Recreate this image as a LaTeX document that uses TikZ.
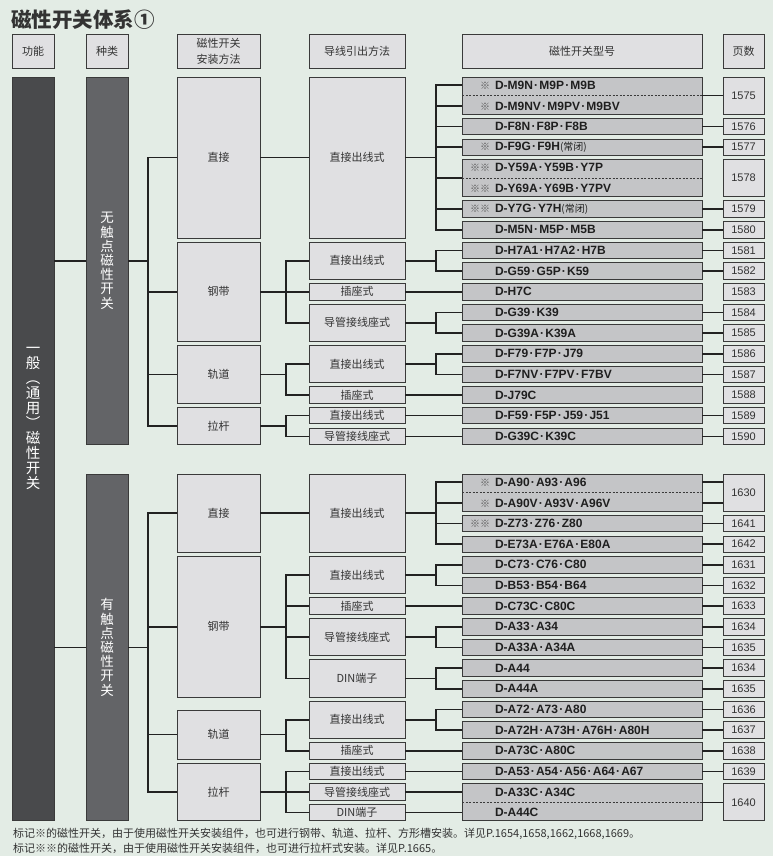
\documentclass[tikz,border=0pt]{standalone}
\usepackage{fontspec}
\setmainfont{Liberation Sans}
\newfontfamily\cjk{Noto Sans CJK SC}
\newfontfamily\lat{Liberation Sans}
\definecolor{bgfill}{HTML}{E3ECE5}
\definecolor{boxfill}{HTML}{E0E0E2}
\definecolor{modelfill}{HTML}{C4C5C7}
\definecolor{funfill}{HTML}{494A4C}
\definecolor{kindfill}{HTML}{636467}
\definecolor{edgecol}{HTML}{3A3A3A}
\definecolor{linecol}{HTML}{222222}
\definecolor{textcol}{HTML}{333333}
\definecolor{markcol}{HTML}{555555}
\newcommand{\mdot}{\kern1.2pt·\kern1.2pt}
\newcommand{\nclosed}{{\cjk\mdseries\fontsize{10}{12}\selectfont(常闭)}}
\newcommand{\refm}{\llap{{\cjk\mdseries\fontsize{10}{12}\selectfont\color{markcol}※}\kern5pt}}
\newcommand{\refmm}{\llap{{\cjk\mdseries\fontsize{10}{12}\selectfont\color{markcol}※※}\kern5pt}}

\begin{document}
\begin{tikzpicture}[x=1pt,y=-1pt,
  declare function={ya(\a,\b)=77+10.325*(\a+\b)+8.25; yb(\a,\b)=474+10.325*(\a+\b)+8.25;},
  link/.style={draw=linecol,line width=1.6pt},
  sep/.style={draw=edgecol,line width=0.7pt,dash pattern=on 2pt off 1.5pt},
  rowspan/.style 2 args={minimum height={20.65*(#2-#1)+16.5}}]
\tikzset{
  cell/.style={draw=edgecol,line width=0.9pt,inner sep=0pt,outer sep=0pt,text=textcol,align=center,font=\cjk\fontsize{11}{15}\selectfont},
  head/.style={cell,fill=boxfill,minimum height=34pt},
  inst/.style={cell,fill=boxfill,minimum width=83pt},
  wire/.style={cell,fill=boxfill,minimum width=96pt},
  model/.style={cell,fill=modelfill,minimum width=240pt,rowspan={0}{0},text width=174pt,align=left,text=black!88,font=\lat\bfseries\fontsize{12}{13}\selectfont},
  modelrow/.style={model,draw=none,fill=none},
  page/.style={cell,fill=boxfill,minimum width=41pt,rowspan={0}{0},font=\lat\fontsize{11}{13}\selectfont},
  column/.style={cell,minimum width=42pt,text=white}
}
\fill[bgfill] (0,0) rectangle (773,856);
\useasboundingbox (0,0) rectangle (773,856);

% title and header row
\node[anchor=west,inner sep=0pt,text=textcol,font=\cjk\bfseries\fontsize{20.5}{22}\selectfont] (title) at (11,20) {磁性开关体系①};
\node[head,minimum width=42pt] (hF) at (33,51) {功能};
\node[head,minimum width=42pt] (hK) at (107,51) {种类};
\node[head,minimum width=83pt,font=\cjk\fontsize{11}{16}\selectfont] (hI) at (218.5,51) {磁性开关\\安装方法};
\node[head,minimum width=96pt] (hW) at (357,51) {导线引出方法};
\node[head,minimum width=240pt] (hM) at (582,51) {磁性开关型号};
\node[head,minimum width=41pt] (hP) at (743.5,51) {页数};

% function and kind columns
\node[column,fill=funfill,minimum height=743.9pt] (fun) at (33,448.95) {};
\node[inner sep=0pt,align=center,text=white,font=\cjk\fontsize{14.5}{15}\selectfont] (funtxt) at (33,418) {一\\般\\︵\\通\\用\\︶\\磁\\性\\开\\关};
\node[column,fill=kindfill,rowspan={0}{17},font=\cjk\fontsize{13.5}{14.2}\selectfont] (kA) at (107,{ya(0,17)}) {无\\触\\点\\磁\\性\\开\\关};
\node[column,fill=kindfill,rowspan={0}{16},font=\cjk\fontsize{13.5}{14.2}\selectfont] (kB) at (107,{yb(0,16)}) {有\\触\\点\\磁\\性\\开\\关};

% mounting
\node[inst,rowspan={0}{7}] (iA1) at (218.5,{ya(0,7)}) {直接};
\node[inst,rowspan={8}{12}] (iA2) at (218.5,{ya(8,12)}) {钢带};
\node[inst,rowspan={13}{15}] (iA3) at (218.5,{ya(13,15)}) {轨道};
\node[inst,rowspan={16}{17}] (iA4) at (218.5,{ya(16,17)}) {拉杆};
\node[inst,rowspan={0}{3}] (iB1) at (218.5,{yb(0,3)}) {直接};
\node[inst,rowspan={4}{10}] (iB2) at (218.5,{yb(4,10)}) {钢带};
\node[inst,minimum height=49pt] (iB3) at (218.5,734.5) {轨道};
\node[inst,rowspan={14}{16}] (iB4) at (218.5,{yb(14,16)}) {拉杆};

% lead wire
\node[wire,rowspan={0}{7}] (wA1) at (357,{ya(0,7)}) {直接出线式};
\node[wire,rowspan={8}{9}] (wA2) at (357,{ya(8,9)}) {直接出线式};
\node[wire,rowspan={10}{10}] (wA3) at (357,{ya(10,10)}) {插座式};
\node[wire,rowspan={11}{12}] (wA4) at (357,{ya(11,12)}) {导管接线座式};
\node[wire,rowspan={13}{14}] (wA5) at (357,{ya(13,14)}) {直接出线式};
\node[wire,rowspan={15}{15}] (wA6) at (357,{ya(15,15)}) {插座式};
\node[wire,rowspan={16}{16}] (wA7) at (357,{ya(16,16)}) {直接出线式};
\node[wire,rowspan={17}{17}] (wA8) at (357,{ya(17,17)}) {导管接线座式};
\node[wire,rowspan={0}{3}] (wB1) at (357,{yb(0,3)}) {直接出线式};
\node[wire,rowspan={4}{5}] (wB2) at (357,{yb(4,5)}) {直接出线式};
\node[wire,rowspan={6}{6}] (wB3) at (357,{yb(6,6)}) {插座式};
\node[wire,rowspan={7}{8}] (wB4) at (357,{yb(7,8)}) {导管接线座式};
\node[wire,rowspan={9}{10}] (wB5) at (357,{yb(9,10)}) {DIN端子};
\node[wire,rowspan={11}{12}] (wB6) at (357,{yb(11,12)}) {直接出线式};
\node[wire,rowspan={13}{13}] (wB7) at (357,{yb(13,13)}) {插座式};
\node[wire,rowspan={14}{14}] (wB8) at (357,{yb(14,14)}) {直接出线式};
\node[wire,rowspan={15}{15}] (wB9) at (357,{yb(15,15)}) {导管接线座式};
\node[wire,rowspan={16}{16}] (wB10) at (357,{yb(16,16)}) {DIN端子};

% models and pages, non-contact
\node[model,rowspan={0}{1}] (mA01) at (582,{ya(0,1)}) {};
\node[modelrow] (mA0) at (582,{ya(0,0)}) {\refm D-M9N\mdot M9P\mdot M9B};
\node[modelrow] (mA1) at (582,{ya(1,1)}) {\refm D-M9NV\mdot M9PV\mdot M9BV};
\draw[sep] (mA01.west) -- (mA01.east);
\node[page,rowspan={0}{1}] (pA01) at (743.5,{ya(0,1)}) {1575};
\node[model,rowspan={4}{5}] (mA45) at (582,{ya(4,5)}) {};
\node[modelrow] (mA4) at (582,{ya(4,4)}) {\refmm D-Y59A\mdot Y59B\mdot Y7P};
\node[modelrow] (mA5) at (582,{ya(5,5)}) {\refmm D-Y69A\mdot Y69B\mdot Y7PV};
\draw[sep] (mA45.west) -- (mA45.east);
\node[page,rowspan={4}{5}] (pA45) at (743.5,{ya(4,5)}) {1578};
\foreach \i/\txt/\pg in {2/{D-F8N\mdot F8P\mdot F8B}/1576, 3/{\refm D-F9G\mdot F9H\nclosed}/1577,
    6/{\refmm D-Y7G\mdot Y7H\nclosed}/1579, 7/{D-M5N\mdot M5P\mdot M5B}/1580,
    8/{D-H7A1\mdot H7A2\mdot H7B}/1581, 9/{D-G59\mdot G5P\mdot K59}/1582, 10/{D-H7C}/1583,
    11/{D-G39\mdot K39}/1584, 12/{D-G39A\mdot K39A}/1585, 13/{D-F79\mdot F7P\mdot J79}/1586,
    14/{D-F7NV\mdot F7PV\mdot F7BV}/1587, 15/{D-J79C}/1588, 16/{D-F59\mdot F5P\mdot J59\mdot J51}/1589,
    17/{D-G39C\mdot K39C}/1590}{
  \node[model] (mA\i) at (582,{ya(\i,\i)}) {\txt};
  \node[page] (pA\i) at (743.5,{ya(\i,\i)}) {\pg};
}

% models and pages, contact
\node[model,rowspan={0}{1}] (mB01) at (582,{yb(0,1)}) {};
\node[modelrow] (mB0) at (582,{yb(0,0)}) {\refm D-A90\mdot A93\mdot A96};
\node[modelrow] (mB1) at (582,{yb(1,1)}) {\refm D-A90V\mdot A93V\mdot A96V};
\draw[sep] (mB01.west) -- (mB01.east);
\node[page,rowspan={0}{1}] (pB01) at (743.5,{yb(0,1)}) {1630};
\node[model,rowspan={15}{16}] (mB1516) at (582,{yb(15,16)}) {};
\node[modelrow] (mB15) at (582,{yb(15,15)}) {D-A33C\mdot A34C};
\node[modelrow] (mB16) at (582,{yb(16,16)}) {D-A44C};
\draw[sep] (mB1516.west) -- (mB1516.east);
\node[page,rowspan={15}{16}] (pB1516) at (743.5,{yb(15,16)}) {1640};
\foreach \i/\txt/\pg in {2/{\refmm D-Z73\mdot Z76\mdot Z80}/1641, 3/{D-E73A\mdot E76A\mdot E80A}/1642,
    4/{D-C73\mdot C76\mdot C80}/1631, 5/{D-B53\mdot B54\mdot B64}/1632, 6/{D-C73C\mdot C80C}/1633,
    7/{D-A33\mdot A34}/1634, 8/{D-A33A\mdot A34A}/1635, 9/{D-A44}/1634, 10/{D-A44A}/1635,
    11/{D-A72\mdot A73\mdot A80}/1636, 12/{D-A72H\mdot A73H\mdot A76H\mdot A80H}/1637,
    13/{D-A73C\mdot A80C}/1638, 14/{D-A53\mdot A54\mdot A56\mdot A64\mdot A67}/1639}{
  \node[model] (mB\i) at (582,{yb(\i,\i)}) {\txt};
  \node[page] (pB\i) at (743.5,{yb(\i,\i)}) {\pg};
}

% connectors
\draw[link] (fun.east |- kA.west) -- (kA.west);
\draw[link] (fun.east |- kB.west) -- (kB.west);
\draw[link] (kA.east) -- ++(20,0) coordinate (tKA);
\foreach \n in {iA1,iA2,iA3,iA4} \draw[link] (tKA) |- (\n.west);
\draw[link] (kB.east) -- ++(20,0) coordinate (tKB);
\foreach \n in {iB1,iB2,iB3,iB4} \draw[link] (tKB) |- (\n.west);

\draw[link] (iA1.east) -- (wA1.west);
\draw[link] (iA2.east) -- ++(26,0) coordinate (tIA2);
\foreach \n in {wA2,wA3,wA4} \draw[link] (tIA2) |- (\n.west);
\draw[link] (iA3.east) -- ++(26,0) coordinate (tIA3);
\foreach \n in {wA5,wA6} \draw[link] (tIA3) |- (\n.west);
\draw[link] (iA4.east) -- ++(26,0) coordinate (tIA4);
\foreach \n in {wA7,wA8} \draw[link] (tIA4) |- (\n.west);
\draw[link] (iB1.east) -- (wB1.west);
\draw[link] (iB2.east) -- ++(26,0) coordinate (tIB2);
\foreach \n in {wB2,wB3,wB4,wB5} \draw[link] (tIB2) |- (\n.west);
\draw[link] (iB3.east) -- ++(26,0) coordinate (tIB3);
\foreach \n in {wB6,wB7} \draw[link] (tIB3) |- (\n.west);
\draw[link] (iB4.east) -- ++(26,0) coordinate (tIB4);
\foreach \n in {wB8,wB9,wB10} \draw[link] (tIB4) |- (\n.west);

\draw[link] (wA1.east) -- ++(31,0) coordinate (tWA1);
\foreach \n in {mA0,mA1,mA2,mA3,mA45,mA6,mA7} \draw[link] (tWA1) |- (\n.west);
\draw[link] (wA2.east) -- ++(31,0) coordinate (tWA2);
\foreach \n in {mA8,mA9} \draw[link] (tWA2) |- (\n.west);
\draw[link] (wA3.east) -- (mA10.west);
\draw[link] (wA4.east) -- ++(31,0) coordinate (tWA4);
\foreach \n in {mA11,mA12} \draw[link] (tWA4) |- (\n.west);
\draw[link] (wA5.east) -- ++(31,0) coordinate (tWA5);
\foreach \n in {mA13,mA14} \draw[link] (tWA5) |- (\n.west);
\draw[link] (wA6.east) -- (mA15.west);
\draw[link] (wA7.east) -- (mA16.west);
\draw[link] (wA8.east) -- (mA17.west);
\draw[link] (wB1.east) -- ++(31,0) coordinate (tWB1);
\foreach \n in {mB0,mB1,mB2,mB3} \draw[link] (tWB1) |- (\n.west);
\draw[link] (wB2.east) -- ++(31,0) coordinate (tWB2);
\foreach \n in {mB4,mB5} \draw[link] (tWB2) |- (\n.west);
\draw[link] (wB3.east) -- (mB6.west);
\draw[link] (wB4.east) -- ++(31,0) coordinate (tWB4);
\foreach \n in {mB7,mB8} \draw[link] (tWB4) |- (\n.west);
\draw[link] (wB5.east) -- ++(31,0) coordinate (tWB5);
\foreach \n in {mB9,mB10} \draw[link] (tWB5) |- (\n.west);
\draw[link] (wB6.east) -- ++(31,0) coordinate (tWB6);
\foreach \n in {mB11,mB12} \draw[link] (tWB6) |- (\n.west);
\draw[link] (wB7.east) -- (mB13.west);
\draw[link] (wB8.east) -- (mB14.west);
\draw[link] (wB9.east) -- (mB15.west);
\draw[link] (wB10.east) -- (mB16.west);

\draw[link] (mA01.east) -- (pA01.west);
\foreach \i in {2,3,6,7,8,9,11,12,13,14,16,17} \draw[link] (mA\i.east) -- (pA\i.west);
\draw[link] (mB0.east) -- (mB0.east -| pB01.west);
\draw[link] (mB1.east) -- (mB1.east -| pB01.west);
\foreach \i in {2,...,14} \draw[link] (mB\i.east) -- (pB\i.west);
\draw[link] (mB1516.east) -- (pB1516.west);

% notes
\node[anchor=west,inner sep=0pt,text=textcol,font=\cjk\fontsize{11}{12}\selectfont] (note1) at (13,834) {标记※的磁性开关，由于使用磁性开关安装组件，也可进行钢带、轨道、拉杆、方形槽安装。详见P.1654,1658,1662,1668,1669。};
\node[anchor=west,inner sep=0pt,text=textcol,font=\cjk\fontsize{11}{12}\selectfont] (note2) at (13,848) {标记※※的磁性开关，由于使用磁性开关安装组件，也可进行拉杆式安装。详见P.1665。};
\end{tikzpicture}
\end{document}
